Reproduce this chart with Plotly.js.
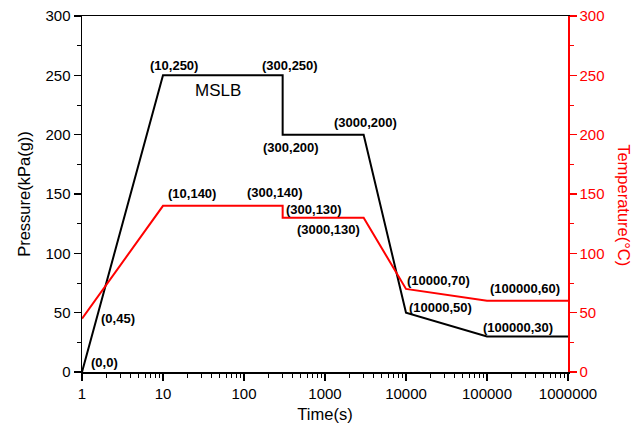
<!DOCTYPE html>
<html>
<head>
<meta charset="utf-8">
<script src="https://cdn.plot.ly/plotly-3.0.1.min.js"></script>
<style>html,body{margin:0;padding:0;background:#fff}#chart{width:639px;height:432px}</style>
</head>
<body>
<div id="chart"></div>
<script>
// ---- data ----
const timePressure = [1, 10, 300, 300, 3000, 10000, 100000, 1000000];
const pressure = [0, 250, 250, 200, 200, 50, 30, 30];
const timeTemperature = [1, 10, 300, 300, 3000, 10000, 100000, 1000000];
const temperature = [45, 140, 140, 130, 130, 70, 60, 60];

const xTickVals = [1, 10, 100, 1000, 10000, 100000, 1000000];
const xTickText = ['1', '10', '100', '1000', '10000', '100000', '1000000'];

// point labels (text, log10 time position, value position)
const labelText = ['(0,0)', '(0,45)', '(10,250)', '(300,250)', '(300,200)', '(3000,200)',
  '(10,140)', '(300,140)', '(300,130)', '(3000,130)', '(10000,70)', '(10000,50)',
  '(100000,60)', '(100000,30)'];
const labelLogX = [0.272, 0.45, 1.136, 2.568, 2.58, 3.494, 1.364, 2.377, 2.858, 3.043,
  4.401, 4.426, 5.469, 5.377];
const labelY = [8.4, 45.4, 258.3, 258.3, 189.3, 210.4, 150.6, 151.5, 137.2, 120.3,
  77.4, 54.7, 70.7, 37.9];

const FONT = 'Arial, "Liberation Sans", sans-serif';

const traces = [
  {x: timePressure, y: pressure, type: 'scatter', mode: 'lines', name: 'Pressure',
   line: {color: '#000000', width: 2}, yaxis: 'y', showlegend: false},
  {x: timeTemperature, y: temperature, type: 'scatter', mode: 'lines', name: 'Temperature',
   line: {color: '#FF0000', width: 2}, yaxis: 'y2', showlegend: false}
];

const annotations = labelText.map((t, i) => ({
  text: t, x: labelLogX[i], y: labelY[i], xref: 'x', yref: 'y',
  showarrow: false, xanchor: 'center', yanchor: 'middle',
  font: {family: FONT, size: 13, color: '#000', weight: 'bold'}
}));
annotations.push({
  text: 'MSLB', x: 1.673, y: 237.3, xref: 'x', yref: 'y', showarrow: false,
  xanchor: 'center', yanchor: 'middle', font: {family: FONT, size: 17, color: '#000'}
});
annotations.push({
  text: 'Temperature(°C)', x: 1.115, y: 0.469, xref: 'paper', yref: 'paper',
  showarrow: false, textangle: 90, xanchor: 'center', yanchor: 'middle',
  font: {family: FONT, size: 16.5, color: '#FF0000'}
});

const layout = {
  width: 639, height: 432,
  margin: {l: 82, r: 71, t: 16, b: 60, pad: 0},
  paper_bgcolor: '#fff', plot_bgcolor: '#fff',
  font: {family: FONT, color: '#000'},
  showlegend: false,
  xaxis: {
    type: 'log', range: [0, 6], tickvals: xTickVals, ticktext: xTickText,
    ticks: 'outside', ticklen: 7, tickwidth: 1.5, tickcolor: '#000',
    showline: true, linecolor: '#000', linewidth: 1.5, mirror: true,
    showgrid: false, zeroline: false,
    tickfont: {family: FONT, size: 15, color: '#000'},
    minor: {dtick: 'D1', ticks: 'outside', ticklen: 4, tickwidth: 1, tickcolor: '#000', showgrid: false},
    title: {text: 'Time(s)', font: {family: FONT, size: 16.5, color: '#000'}, standoff: 8}
  },
  yaxis: {
    range: [0, 300], tickmode: 'linear', tick0: 0, dtick: 50,
    ticks: 'outside', ticklen: 7, tickwidth: 1.5, tickcolor: '#000',
    showline: true, linecolor: '#000', linewidth: 1.5,
    showgrid: false, zeroline: false,
    tickfont: {family: FONT, size: 15, color: '#000'},
    minor: {dtick: 25, ticks: 'outside', ticklen: 4, tickwidth: 1, tickcolor: '#000', showgrid: false},
    title: {text: 'Pressure(kPa(g))', font: {family: FONT, size: 16.5, color: '#000'}, standoff: 10}
  },
  yaxis2: {
    overlaying: 'y', side: 'right', range: [0, 300], tickmode: 'linear', tick0: 0, dtick: 50,
    ticks: 'outside', ticklen: 7, tickwidth: 1.5, tickcolor: '#FF0000',
    showline: true, linecolor: '#FF0000', linewidth: 1.5,
    showgrid: false, zeroline: false,
    tickfont: {family: FONT, size: 15, color: '#FF0000'},
    minor: {dtick: 25, ticks: 'outside', ticklen: 4, tickwidth: 1, tickcolor: '#FF0000', showgrid: false}
  },
  annotations: annotations
};

Plotly.newPlot('chart', traces, layout, {displayModeBar: false, staticPlot: true});
</script>
</body>
</html>
